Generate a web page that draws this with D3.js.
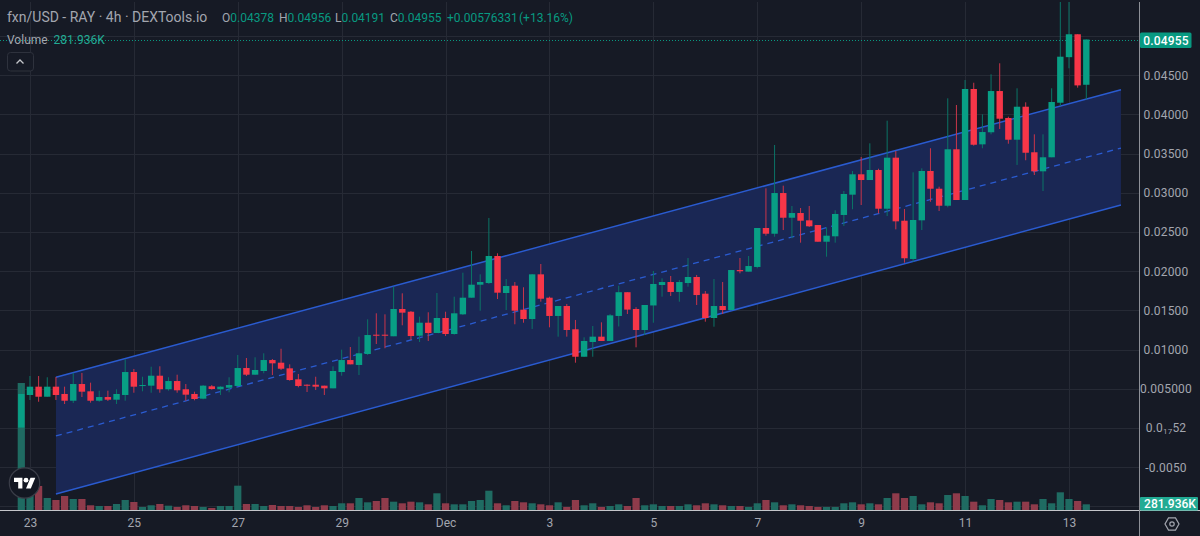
<!DOCTYPE html>
<html><head><meta charset="utf-8">
<script src="https://cdn.jsdelivr.net/npm/d3@7"></script>
<style>
html,body{margin:0;padding:0;background:#161a25;overflow:hidden}
svg{display:block;font-family:Roboto,"Noto Sans",sans-serif}
</style></head><body><svg id="c" width="1200" height="536"></svg>
<script>
const opens=[.00006,.00421,.00527,.00399,.00527,.00434,.00348,.00561,.00468,.00348,.00395,.00361,.00421,.00714,.00540,.00540,.00667,.00494,.00599,.00494,.00434,.00374,.00532,.00494,.00514,.00536,.00765,.00680,.00727,.00867,.00833,.00761,.00621,.00552,.00552,.00540,.00506,.00714,.00867,.00804,.00944,.01190,.01190,.01170,.01518,.01483,.01177,.01343,.01212,.01403,.01199,.01450,.01662,.01828,.01849,.02194,.01722,.01815,.01509,.01390,.01960,.01662,.01429,.01556,.01259,.00909,.01097,.01165,.01110,.01429,.01732,.01518,.01250,.01563,.01824,.01862,.01735,.01849,.01926,.01713,.01403,.01556,.01505,.02015,.01994,.02054,.02551,.02478,.02997,.02682,.02742,.02649,.02589,.02376,.02445,.02717,.02976,.03236,.03163,.03291,.02797,.03448,.02644,.02156,.02649,.03278,.03052,.02835,.03555,.02908,.04324,.03618,.03772,.04298,.03954,.03677,.04098,.03517,.03274,.03453,.04149,.04730,.05022,.04378];
const closes=[.00434,.00527,.00399,.00527,.00421,.00348,.00561,.00463,.00348,.00395,.00361,.00434,.00714,.00527,.00548,.00667,.00494,.00599,.00481,.00425,.00370,.00540,.00497,.00527,.00548,.00765,.00680,.00740,.00867,.00825,.00756,.00612,.00536,.00540,.00527,.00506,.00727,.00867,.00812,.00953,.01186,.01177,.01177,.01518,.01471,.01173,.01343,.01212,.01403,.01199,.01463,.01662,.01828,.01862,.02194,.01726,.01811,.01496,.01390,.01960,.01649,.01429,.01556,.01250,.00909,.01110,.01165,.01110,.01437,.01732,.01510,.01250,.01569,.01837,.01862,.01735,.01862,.01926,.01696,.01403,.01556,.01505,.02015,.01999,.02066,.02551,.02478,.02997,.02682,.02742,.02644,.02573,.02376,.02453,.02730,.02985,.03236,.03163,.03291,.02797,.03448,.02636,.02165,.02653,.03278,.03052,.02835,.03555,.02908,.04324,.03613,.03775,.04298,.03945,.03677,.04098,.03511,.03274,.03453,.04158,.04736,.05022,.04370,.04955];
const highs=[.00536,.00663,.00663,.00647,.00650,.00527,.00702,.00702,.00578,.00476,.00476,.00494,.00876,.00753,.00654,.00782,.00787,.00647,.00680,.00561,.00463,.00548,.00548,.00532,.00647,.00931,.00893,.00902,.00953,.00880,.01011,.00812,.00689,.00557,.00654,.00540,.00787,.00999,.01033,.01165,.01386,.01463,.01450,.01802,.01718,.01492,.01420,.01476,.01722,.01483,.01675,.01981,.02258,.01960,.02679,.02228,.01900,.01862,.01795,.01964,.02092,.01675,.01556,.01582,.01378,.01157,.01301,.01348,.01454,.01815,.01732,.01540,.01569,.02003,.01909,.01939,.01888,.02168,.01952,.01747,.01900,.01862,.02015,.02168,.02194,.02551,.03057,.03610,.03091,.02832,.02806,.02832,.02589,.02560,.02777,.03023,.03278,.03457,.03631,.03307,.03920,.03533,.02793,.03261,.03312,.03568,.03078,.04205,.04120,.04439,.04404,.04001,.04511,.04652,.03971,.04333,.04154,.03746,.03746,.04333,.05560,.05560,.05022,.04956];
const lows=[.00000,.00357,.00335,.00399,.00357,.00306,.00319,.00395,.00323,.00335,.00344,.00306,.00348,.00450,.00468,.00450,.00450,.00476,.00450,.00348,.00353,.00366,.00489,.00421,.00455,.00536,.00663,.00676,.00698,.00676,.00740,.00603,.00519,.00459,.00485,.00421,.00506,.00667,.00812,.00676,.00931,.01071,.01017,.01170,.01310,.01122,.01097,.01110,.01212,.01173,.01190,.01441,.01662,.01496,.01837,.01645,.01505,.01323,.01343,.01263,.01611,.01284,.01165,.01165,.00833,.00909,.00909,.01110,.01110,.01295,.01454,.01029,.01186,.01343,.01675,.01684,.01611,.01802,.01569,.01356,.01292,.01454,.01501,.01973,.01994,.02037,.02453,.02440,.02525,.02420,.02364,.02564,.02376,.02185,.02364,.02577,.02790,.02844,.03163,.02738,.02704,.02534,.02108,.02121,.02525,.02886,.02768,.02815,.02908,.02908,.03601,.03568,.03746,.03814,.03626,.03355,.03415,.03227,.03023,.03453,.04107,.04588,.04341,.04191];
const volumes=[6286,840,1190,594,495,693,545,545,233,198,198,297,495,396,149,233,297,213,149,233,198,149,99,198,198,1203,297,297,198,248,198,198,149,233,149,233,198,332,332,594,381,446,594,411,332,411,381,282,827,332,282,282,446,495,955,332,233,446,381,332,282,233,381,149,495,233,332,149,198,282,198,594,233,282,198,198,198,282,233,332,282,233,198,198,149,332,495,381,233,282,233,198,149,149,149,332,381,282,332,282,594,827,594,693,282,381,332,743,827,693,411,233,545,495,381,411,411,282,545,332,876,545,446,282];
const channelIndex=[4,127];
const channelUpper=[.00647,.04315];
const channelMiddle=[-.00102,.03571];
const channelLower=[-.00842,.02844];
const priceTicks=[.045,.04,.035,.03,.025,.02,.015,.01,.005,0,-.005];
const priceLabels=["0.04500","0.04000","0.03500","0.03000","0.02500","0.02000","0.01500","0.01000","0.005000","0.01752","-0.0050"];
const gridPrices=[.05,.045,.04,.035,.03,.025,.02,.015,.01,.005,0,-.005,-.01];
const timeTicks=[1,13,25,37,49,61,73,85,97,109,121];
const timeLabels=["23","25","27","29","Dec","3","5","7","9","11","13"];
const lastPrice=.04955, lastPriceLabel="0.04955", lastVolumeLabel="281.936K";
const titleText="fxn/USD - RAY · 4h · DEXTools.io";

const svg=d3.select("#c");
const x=d3.scaleLinear().domain([0,123]).range([21.3,1086.3]);
const y=d3.scaleLinear().domain([-.01,.05]).range([506.4,36]);
const v=d3.scaleLinear().domain([0,6336]).range([510,382]);
const UP="#089f85",DN="#f73648",UPW="#0b7466",DNW="#c9354a",UPV="#1f6b62",DNV="#8f3b4b";
const GRID="#262a35",TXT="#a3a6af";

svg.append("defs").append("clipPath").attr("id","plot").append("rect")
  .attr("x",0).attr("y",2).attr("width",1139).attr("height",508);
const plot=svg.append("g").attr("clip-path","url(#plot)");

// grid
plot.selectAll(".hg").data(gridPrices).join("line").attr("x1",0).attr("x2",1140)
  .attr("y1",d=>Math.round(y(d))+.5).attr("y2",d=>Math.round(y(d))+.5).attr("stroke",GRID);
plot.selectAll(".vg").data(timeTicks).join("line").attr("y1",2).attr("y2",510)
  .attr("x1",d=>Math.round(x(d))+.5).attr("x2",d=>Math.round(x(d))+.5).attr("stroke",GRID);

// channel
const chan=channelIndex.map((d,i)=>({i:d,u:channelUpper[i],m:channelMiddle[i],l:channelLower[i]}));
plot.append("path").datum(chan).attr("fill","#1a2754")
  .attr("d",d3.area().x(d=>x(d.i)).y0(d=>y(d.l)).y1(d=>y(d.u)));
const mk=k=>d3.line().x(d=>x(d.i)).y(d=>y(d[k]));
["u","l"].forEach(k=>plot.append("path").datum(chan).attr("fill","none").attr("stroke","#2a5bd0").attr("stroke-width",1.5).attr("d",mk(k)));
plot.append("path").datum(chan).attr("fill","none").attr("stroke","#2a5bd0").attr("stroke-width",1.3).attr("stroke-dasharray","6 5").attr("d",mk("m"));

// last price line
plot.append("line").attr("x1",0).attr("x2",1140).attr("y1",Math.round(y(lastPrice))+.5).attr("y2",Math.round(y(lastPrice))+.5)
  .attr("stroke","#089981").attr("stroke-dasharray","1 2");

// volume + candles
const data=opens.map((o,i)=>({i,o,c:closes[i],h:highs[i],l:lows[i],vol:volumes[i],up:closes[i]>=o}));
plot.selectAll(".vol").data(data).join("rect").attr("x",d=>x(d.i)-3.6).attr("width",7.2)
  .attr("y",d=>v(d.vol)).attr("height",d=>510-v(d.vol)).attr("fill",d=>d.up?UPV:DNV);
plot.selectAll(".wick").data(data).join("line").attr("x1",d=>x(d.i)).attr("x2",d=>x(d.i))
  .attr("y1",d=>y(d.h)).attr("y2",d=>y(d.l)).attr("stroke",d=>d.up?UPW:DNW).attr("stroke-width",1);
plot.selectAll(".body").data(data).join("rect").attr("x",d=>x(d.i)-3.2).attr("width",6.4)
  .attr("y",d=>y(Math.max(d.o,d.c))).attr("height",d=>Math.max(1,Math.abs(y(d.o)-y(d.c))))
  .attr("fill",d=>d.up?UP:DN);

// axes
const ax=d3.axisRight(y).tickValues(priceTicks).tickSize(0).tickPadding(0).tickFormat((d,i)=>priceLabels[i]);
const gy=svg.append("g").attr("transform","translate(1166,0)").call(ax);
gy.select(".domain").remove();
gy.selectAll("text").attr("x",0).attr("text-anchor","middle").attr("fill",TXT).attr("font-size",12).attr("letter-spacing",.2).attr("font-family","Roboto");
gy.selectAll("text").filter(d=>d===0).each(function(){
  const t=d3.select(this).text("");
  t.append("tspan").text("0.0");t.append("tspan").attr("font-size",8).attr("dy",2).text("17");t.append("tspan").attr("dy",-2).text("52");
});
const bx=d3.axisBottom(x).tickValues(timeTicks).tickSize(0).tickPadding(0).tickFormat((d,i)=>timeLabels[i]);
const gx=svg.append("g").attr("transform","translate(0,518)").call(bx);
gx.select(".domain").remove();
gx.selectAll("text").attr("fill",TXT).attr("font-size",12).attr("font-family","Roboto");

svg.append("line").attr("x1",0).attr("x2",1200).attr("y1",510.5).attr("y2",510.5).attr("stroke","#c4c6ca");
svg.append("line").attr("x1",1139.5).attr("x2",1139.5).attr("y1",2).attr("y2",536).attr("stroke","#8d9097");

// tags
svg.append("rect").attr("x",1140).attr("y",32.5).attr("width",51.5).attr("height",15.5).attr("rx",1.5).attr("fill","#089981");
svg.append("text").attr("x",1166).attr("y",44.5).attr("text-anchor","middle").attr("fill","#fff").attr("font-size",12).attr("font-weight",500).attr("letter-spacing",.2).text(lastPriceLabel);
svg.append("rect").attr("x",1140).attr("y",497).attr("width",58).attr("height",13.5).attr("rx",1).attr("fill","#22ab94");
svg.append("text").attr("x",1170).attr("y",508.3).attr("text-anchor","middle").attr("fill","#fff").attr("font-size",12).attr("font-weight",500).text(lastVolumeLabel);

// header
const head=svg.append("g");
head.append("text").attr("x",7).attr("y",22).attr("fill",TXT).attr("font-size",14).text(titleText);
[["O","0.04378",222],["H","0.04956",279],["L","0.04191",335],["C","0.04955",390]].forEach(([a,b,px])=>{
  const t=head.append("text").attr("x",px).attr("y",22).attr("font-size",12);
  t.append("tspan").attr("fill",TXT).text(a);t.append("tspan").attr("fill","#089981").text(b);
});
head.append("text").attr("x",447).attr("y",22).attr("font-size",12).attr("fill","#089981").text("+0.00576331");
head.append("text").attr("x",519).attr("y",22).attr("font-size",12).attr("fill","#089981").text("(+13.16%)");
head.append("text").attr("x",7).attr("y",44).attr("font-size",12).attr("fill",TXT).text("Volume");
head.append("text").attr("x",53.5).attr("y",44).attr("font-size",12).attr("fill","#22ab94").text(lastVolumeLabel);

// collapse button
svg.append("rect").attr("x",7.5).attr("y",52.5).attr("width",26).attr("height",18.5).attr("rx",3).attr("fill","#161a25").attr("stroke","#2e323d");
svg.append("path").attr("d","M16.5 63.5 L20 60 L23.5 63.5").attr("fill","none").attr("stroke","#c4c6ca").attr("stroke-width",1.3);

// TV logo
const logo=svg.append("g").attr("transform","translate(24.5,483)");
logo.append("circle").attr("r",15.2).attr("fill","#131722").attr("stroke","#3a3d48").attr("stroke-width",1.2);
const lg=logo.append("g").attr("transform","translate(-10.5,-7.6) scale(.6)").attr("fill","#fff");
lg.append("path").attr("d","M14 22H7V11H0V4h14v18zM28 22h-8l7.5-18h8L28 22z");
lg.append("circle").attr("cx",20).attr("cy",8).attr("r",4);

// settings icon
const r=7, hex=d3.range(6).map(a=>[1172+r*Math.cos(a*Math.PI/3),524+r*Math.sin(a*Math.PI/3)]);
svg.append("path").attr("d",d3.line()(hex)+"Z").attr("fill","none").attr("stroke",TXT).attr("stroke-width",1.2);
svg.append("circle").attr("cx",1172).attr("cy",524).attr("r",2.2).attr("fill","none").attr("stroke",TXT).attr("stroke-width",1.2);
</script></body></html>
